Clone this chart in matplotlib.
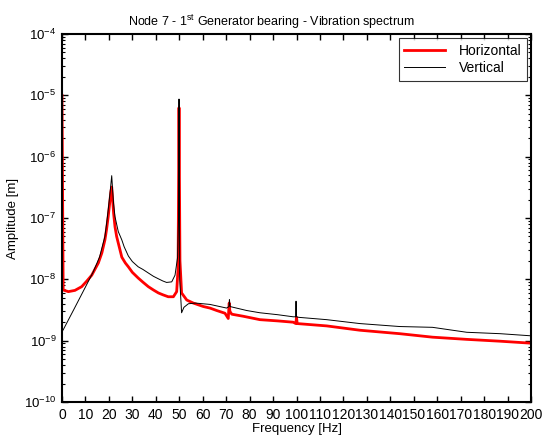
import matplotlib
matplotlib.use("Agg")
import matplotlib.pyplot as plt
from matplotlib.ticker import LogLocator, NullFormatter, FixedLocator, LogFormatterMathtext

plt.rcParams['font.family'] = ['Liberation Sans', 'DejaVu Sans']
plt.rcParams['mathtext.fontset'] = 'custom'
plt.rcParams['mathtext.rm'] = 'Liberation Sans'

freq_h = [0, 0.5, 2.7, 5.5, 8.4, 10.5, 12.7, 14, 15.5, 17, 18.3, 19.0, 19.7, 20.3, 20.8, 21.2,
          21.5, 22.0, 22.6, 23.3, 24.0, 25.5, 27.0, 28.3, 30.0, 32.5, 34.5, 36.8, 39.0, 41.1,
          43.0, 45.3, 47.5, 48.9, 49.5, 49.9, 50.3, 51.0, 53.2, 56.0, 60.3, 63.1, 66, 69.5,
          70.9, 71.3, 71.6, 72.4, 77.3, 84.4, 92, 98.6, 99.7, 100, 100.3, 112.9, 127, 144,
          158, 172.6, 186.8, 200]
amp_h = [1e-5, 6.7e-9, 6.3e-9, 6.6e-9, 7.6e-9, 9.3e-9, 1.17e-8, 1.45e-8, 1.85e-8, 2.7e-8,
         4.4e-8, 6.5e-8, 1.05e-7, 1.7e-7, 2.6e-7, 3.2e-7, 2.2e-7, 1.2e-7, 7.2e-8, 5.0e-8,
         3.9e-8, 2.3e-8, 1.85e-8, 1.6e-8, 1.3e-8, 1.05e-8, 9.0e-9, 7.6e-9, 6.7e-9, 6.0e-9,
         5.6e-9, 5.2e-9, 5.2e-9, 6.3e-9, 1.5e-8, 6.3e-6, 2e-8, 6.0e-9, 4.6e-9, 4.1e-9,
         3.6e-9, 3.4e-9, 3.1e-9, 2.8e-9, 2.3e-9, 4.1e-9, 3.0e-9, 2.7e-9, 2.5e-9, 2.2e-9,
         2.1e-9, 2.0e-9, 1.9e-9, 2.4e-9, 1.9e-9, 1.74e-9, 1.48e-9, 1.3e-9, 1.14e-9, 1.05e-9,
         9.8e-10, 9.1e-10]

freq_v = [0, 0.5, 5, 10, 13.3, 16, 18.3, 19.0, 19.7, 20.5, 21.2, 21.6, 22.0, 22.6, 24, 25.5,
          26.5, 28.3, 30.0, 32.5, 34.5, 36.8, 39.0, 41.1, 43.0, 44.6, 46.8, 48.2, 49.3, 49.7,
          49.9, 50.2, 51.0, 52, 53.9, 57, 63.1, 70.2, 71.2, 71.4, 71.7, 73, 78.8, 84.4, 92,
          98.6, 99.6, 99.8, 100.0, 101, 112.9, 127, 144, 158, 172.6, 186.8, 200]
amp_v = [1.4e-9, 1.5e-9, 3.2e-9, 7.5e-9, 1.32e-8, 2.3e-8, 5.0e-8, 8.0e-8, 1.35e-7, 2.6e-7,
         4.9e-7, 2.8e-7, 1.7e-7, 1.05e-7, 6.0e-8, 4.4e-8, 3.4e-8, 2.4e-8, 1.95e-8, 1.6e-8,
         1.45e-8, 1.27e-8, 1.12e-8, 1.02e-8, 9.4e-9, 8.9e-9, 9.1e-9, 1.17e-8, 2.3e-8, 1e-7,
         8.7e-6, 1e-8, 2.85e-9, 3.5e-9, 4.0e-9, 4.1e-9, 3.9e-9, 3.4e-9, 3.6e-9, 4.7e-9,
         3.6e-9, 3.5e-9, 3.1e-9, 2.85e-9, 2.65e-9, 2.45e-9, 2.45e-9, 4.4e-9, 2.45e-9, 2.4e-9,
         2.2e-9, 1.9e-9, 1.7e-9, 1.65e-9, 1.37e-9, 1.3e-9, 1.2e-9]

xticks = list(range(0, 201, 10))
yticks = [1e-10, 1e-9, 1e-8, 1e-7, 1e-6, 1e-5, 1e-4]

fig = plt.figure(figsize=(5.45, 4.4), dpi=100)
ax = fig.add_axes([62/545, 38/440, (531-62)/545, (402-34)/440])

ax.plot(freq_h, amp_h, color='#ff0000', lw=2.0, label='Horizontal')
ax.plot(freq_v, amp_v, color='black', lw=0.7, label='Vertical')

ax.set_yscale('log')
ax.set_xlim(0, 200)
ax.set_ylim(1e-10, 1e-4)
ax.xaxis.set_major_locator(FixedLocator(xticks))
ax.set_xticklabels([str(t) for t in xticks])
ax.yaxis.set_major_locator(FixedLocator(yticks))
ax.yaxis.set_major_formatter(LogFormatterMathtext())
minor_y = [m * 10.0 ** e for e in range(-10, -4) for m in range(2, 10)]
ax.yaxis.set_minor_locator(FixedLocator(minor_y))
ax.yaxis.set_minor_formatter(NullFormatter())

ax.tick_params(which='both', direction='in', top=True, right=True, pad=4)
ax.tick_params(axis='x', labelsize=10)
ax.tick_params(axis='y', labelsize=9.5)
ax.tick_params(which='major', length=4, width=1)
ax.tick_params(which='minor', length=2, width=0.8)
for s in ax.spines.values():
    s.set_linewidth(1.5)

ax.set_xlabel('Frequency [Hz]', fontsize=9.5, labelpad=1)
ax.set_ylabel('Amplitude [m]', fontsize=9.5, labelpad=4)
ax.set_title('Node 7 - 1$^{\\mathrm{st}}$ Generator bearing - Vibration spectrum',
             fontsize=9, pad=6, x=0.446)

leg = ax.legend(loc='upper right', fontsize=10, frameon=True, fancybox=False,
                edgecolor='black', borderaxespad=0.3, handlelength=2.9, handletextpad=1.0,
                labelspacing=0.25, borderpad=0.4)
leg.get_frame().set_linewidth(0.8)

fig.savefig('out.png', dpi=100)
